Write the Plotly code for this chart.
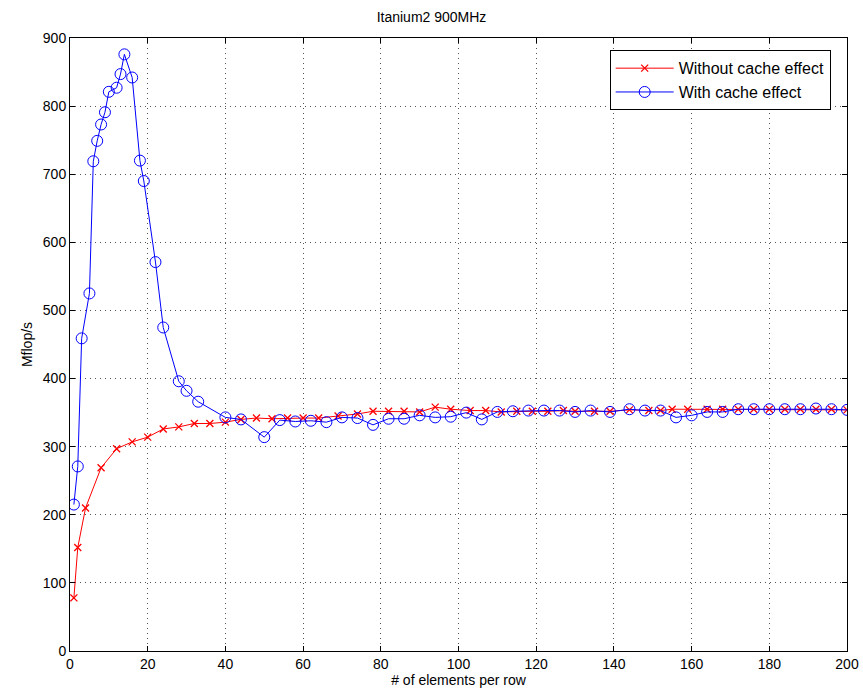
import plotly.graph_objects as go

# Without cache effect (red, x markers)
x_nocache = [1, 2, 4, 8, 12, 16, 20, 24, 28, 32, 36, 40, 44, 48, 52, 56, 60, 64, 69, 74,
             78, 82, 86, 90, 94, 98, 103, 107, 111, 115, 119, 123, 127, 130, 135, 139, 144,
             149, 152, 155, 159, 164, 168, 172, 176, 180, 184, 188, 192, 196, 200]
y_nocache = [78, 152, 210, 269, 297, 307, 314, 326, 329, 334, 334, 336, 340, 342, 341, 342,
             342, 342, 345, 348, 352, 352, 352, 351, 358, 355, 353, 353, 351, 352, 352, 352,
             353, 352, 352, 352, 354, 353, 353, 355, 355, 355, 355, 355, 355, 355, 355, 355,
             355, 355, 354]

# With cache effect (blue, circles)
x_cache = [1, 2, 3, 5, 6, 7, 8, 9, 10, 12, 13, 14, 16, 18, 19, 22, 24, 28, 30, 33, 40, 44,
           50, 54, 58, 62, 66, 70, 74, 78, 82, 86, 90, 94, 98, 102, 106, 110, 114, 118, 122,
           126, 130, 134, 139, 144, 148, 152, 156, 160, 164, 168, 172, 176, 180, 184, 188,
           192, 196, 200]
y_cache = [215, 271, 459, 525, 719, 749, 773, 791, 821, 827, 847, 876, 842, 720, 690, 571,
           475, 396, 382, 366, 343, 340, 314, 339, 337, 338, 336, 343, 342, 332, 341, 341,
           346, 343, 344, 350, 340, 351, 352, 353, 353, 353, 351, 353, 351, 355, 353, 353,
           343, 346, 351, 351, 355, 355, 355, 355, 355, 356, 355, 354]

x_ticks = [0, 20, 40, 60, 80, 100, 120, 140, 160, 180, 200]
y_ticks = [0, 100, 200, 300, 400, 500, 600, 700, 800, 900]

FONT = "Liberation Sans, Arial, Helvetica, sans-serif"

fig = go.Figure()
fig.add_trace(go.Scatter(
    x=x_nocache, y=y_nocache, mode="lines+markers", name="Without cache effect",
    line=dict(color="#ff0000", width=1),
    marker=dict(symbol="x-thin-open", size=7, color="#ff0000", line=dict(color="#ff0000", width=1.3)),
))
fig.add_trace(go.Scatter(
    x=x_cache, y=y_cache, mode="lines+markers", name="With cache effect",
    line=dict(color="#0000ff", width=1),
    marker=dict(symbol="circle-open", size=11, color="#0000ff", line=dict(color="#0000ff", width=1)),
))

axis_common = dict(
    showline=True, linecolor="black", linewidth=1, mirror="ticks",
    ticks="inside", ticklen=5, tickcolor="black",
    showgrid=True, gridcolor="#555555", griddash="1px,4px", gridwidth=1,
    zeroline=False, automargin=False, ticklabeloverflow="allow",
    tickfont=dict(family=FONT, size=14, color="black"),
)

fig.update_layout(
    width=863, height=696,
    margin=dict(l=70, r=16, t=38, b=45),
    paper_bgcolor="white", plot_bgcolor="white",
    font=dict(family=FONT, size=14, color="black"),
    title=dict(text="Itanium2 900MHz", x=0.5, xanchor="center", y=0.975, yanchor="middle",
               font=dict(family=FONT, size=14, color="black")),
    xaxis=dict(range=[0, 200], tickvals=x_ticks,
               title=dict(text="# of elements per row", standoff=3,
                          font=dict(family=FONT, size=14)), **axis_common),
    yaxis=dict(range=[0, 900], tickvals=y_ticks,
               title=dict(text="Mflop/s", standoff=6,
                          font=dict(family=FONT, size=14)), **axis_common),
    legend=dict(x=0.979, y=0.98, xanchor="right", yanchor="top",
                bgcolor="white", bordercolor="black", borderwidth=1,
                font=dict(family=FONT, size=16, color="black"),
                tracegroupgap=0, itemwidth=58),
    showlegend=True,
)

fig.write_html("out.html")
